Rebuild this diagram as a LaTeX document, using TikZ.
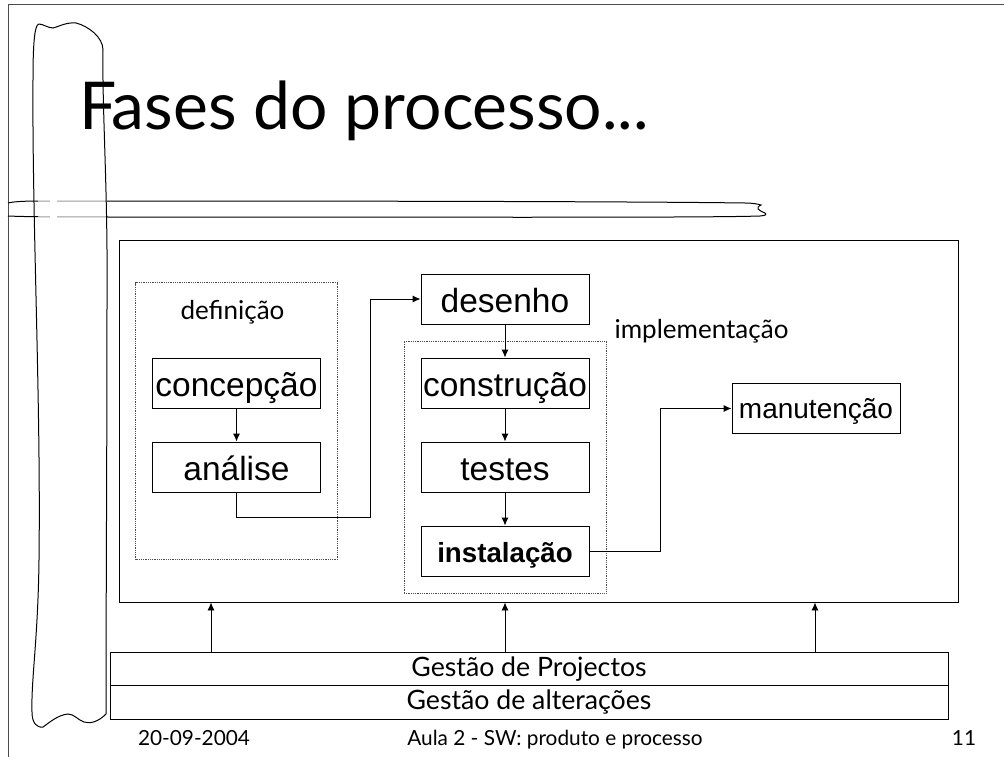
\documentclass[tikz,border=0pt]{standalone}
\usepackage{fontspec}
\setmainfont{Liberation Sans}
\newfontfamily\handfont{Lato}
\usetikzlibrary{positioning, arrows.meta}
\tikzset{
	every text node part/.style= {
		align=center
	},
	phase/.style= {
		rectangle,
		black,
		draw,
		line width=0.9pt,
		minimum width=168pt,
		minimum height=50pt,
		inner sep=0pt,
		text height=28pt,
		text depth=2pt,
		font=\fontsize{33.5}{36}\selectfont
	},
	group/.style= {
		rectangle,
		draw=black!70,
		densely dotted,
		line width=0.8pt,
		inner sep=0pt
	},
	bar/.style= {
		rectangle,
		black,
		draw,
		line width=0.9pt,
		minimum width=838pt,
		minimum height=33.5pt,
		inner sep=0pt,
		font=\handfont\fontsize{26.7}{30}\selectfont
	},
	caption/.style= {
		inner sep=0pt,
		font=\handfont\fontsize{26}{30}\selectfont
	},
	foot/.style= {
		anchor=base,
		inner sep=0pt,
		font=\handfont\fontsize{20.8}{24}\selectfont
	},
	link/.style= {
		-{Latex[length=8pt,width=7pt]},
		line width=0.9pt
	},
	sketch/.style= {
		line width=1pt
	},
	fade/.style= {
		white,
		line width=1.6pt
	}
}
\begin{document}
\begin{tikzpicture}[x=1pt,y=-1pt]
	\useasboundingbox (0,0) rectangle (1004,757);

	% slide frame
	\coordinate (frameA) at (8,757);
	\coordinate (frameB) at (8,4.5);
	\coordinate (frameC) at (1004,4.5);
	\draw[line width=0.9pt, black!70] (frameA) -- (frameB) -- (frameC);

	% hand drawn strokes
	\draw[sketch] (8,203) .. controls (12,202) and (20,201) .. (40,201)
		.. controls (200,201) and (600,201) .. (745,203)
		.. controls (752,203) and (758,204) .. (761,205)
		.. controls (755,208) and (758,210) .. (765,213)
		.. controls (767,215) and (765,215.5) .. (760,216)
		.. controls (700,218) and (400,217) .. (120,217)
		.. controls (70,217) and (30,217) .. (8,216);
	\draw[fade, opacity=0.6] (38,201) -- (107,201);
	\draw[fade, opacity=0.6] (38,217) -- (107,217);
	\draw[fade] (50,201) -- (57,201);
	\draw[fade] (50,217) -- (57,217);
	\draw[sketch] (39,24) .. controls (43,24) and (48,28) .. (53,28)
		.. controls (58,27) and (66,22) .. (76,23)
		.. controls (88,26) and (103,37) .. (103,50)
		.. controls (102,110) and (108,190) .. (107,300)
		.. controls (107,450) and (106,600) .. (106,714)
		.. controls (98,722) and (90,724) .. (84,722)
		.. controls (78,720) and (74,714) .. (68,714)
		.. controls (58,715) and (50,722) .. (43,727)
		.. controls (36,728) and (32,722) .. (32,712)
		.. controls (31,680) and (38,640) .. (39,560)
		.. controls (41,400) and (32,220) .. (33,80)
		.. controls (33,50) and (34,24) .. (39,24);

	% title
	\node (title)[anchor=base west, inner sep=0pt, font=\handfont\fontsize{66}{72}\selectfont] at (79,130) {Fases do processo...};

	% outer process box
	\node (process)[phase, minimum width=839pt, minimum height=362pt] at (538.5,421) {};

	% definition group
	\node (defGroup)[group, minimum width=202pt, minimum height=277pt] at (236.5,421) {};
	\node (defLabel)[caption] at (232.5,312) {definição};
	\node (concepcao)[phase] at (236.5,383) {concepção};
	\node (analise)[phase] at (236.5,467) {análise};
	\draw[link] (concepcao) -- (analise);

	% implementation group
	\node (implGroup)[group, minimum width=202pt, minimum height=252pt] at (505,467) {};
	\node (implLabel)[caption] at (701.5,331) {implementação};
	\node (desenho)[phase] at (505,299) {desenho};
	\node (construcao)[phase] at (505,383) {construção};
	\node (testes)[phase] at (505,467) {testes};
	\node (instalacao)[phase, text height=25pt, text depth=3pt, font=\bfseries\fontsize{27.7}{30}\selectfont] at (505,551) {instalação};
	\draw[link] (desenho) -- (construcao);
	\draw[link] (construcao) -- (testes);
	\draw[link] (testes) -- (instalacao);

	\node (manutencao)[phase, text height=24pt, text depth=4pt, font=\fontsize{28}{30}\selectfont] at (816,408.5) {manutenção};

	\coordinate (turnA) at (370.3,517.7);
	\coordinate (turnB) at (660.3,551);
	\draw[link] (analise.south) |- (turnA) |- (desenho.west);
	\draw[link] (instalacao.east) -- (turnB) |- (manutencao.west);

	% support bars
	\node (gestaoP)[bar] at (529,668.7) {Gestão de Projectos};
	\node (gestaoA)[bar] at (529,702.2) {Gestão de alterações};
	\coordinate (tapA) at (211,652);
	\coordinate (tapB) at (505,652);
	\coordinate (tapC) at (815,652);
	\draw[link] (tapA) -- (tapA |- process.south);
	\draw[link] (tapB) -- (tapB |- process.south);
	\draw[link] (tapC) -- (tapC |- process.south);

	% footer
	\node (date)[foot] at (194,745) {20-09-2004};
	\node (course)[foot] at (555,745) {Aula 2 - SW: produto e processo};
	\node (page)[foot] at (964,745) {11};
\end{tikzpicture}
\end{document}
